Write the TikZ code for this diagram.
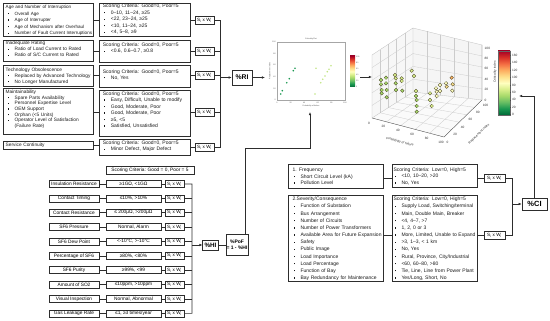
\documentclass[tikz,border=0pt]{standalone}
\usepackage{fontspec}
\setmainfont{Liberation Sans}
\usetikzlibrary{calc,arrows.meta}
\definecolor{cm0}{RGB}{0,104,55}
\definecolor{cm1}{RGB}{26,152,80}
\definecolor{cm2}{RGB}{102,189,99}
\definecolor{cm3}{RGB}{166,217,106}
\definecolor{cm4}{RGB}{217,239,139}
\definecolor{cm5}{RGB}{255,255,191}
\definecolor{cm6}{RGB}{254,224,139}
\definecolor{cm7}{RGB}{253,174,97}
\definecolor{cm8}{RGB}{244,109,67}
\definecolor{cm9}{RGB}{215,48,39}
\definecolor{cm10}{RGB}{165,0,38}
\definecolor{ln}{RGB}{45,45,45}
\pgfdeclareverticalshading{rdyg}{100bp}{color(0bp)=(cm0); color(25bp)=(cm0); color(30bp)=(cm1); color(35bp)=(cm2); color(40bp)=(cm3); color(45bp)=(cm4); color(50bp)=(cm5); color(55bp)=(cm6); color(60bp)=(cm7); color(65bp)=(cm8); color(70bp)=(cm9); color(75bp)=(cm10); color(100bp)=(cm10)}
\newcommand\sq{\rule[0.9pt]{1.3pt}{1.3pt}}
\newcommand\bla{\hspace*{2pt}\makebox[7pt][l]{\sq}}
\newcommand\blb{\hspace*{1pt}\makebox[7pt][l]{\sq}}
\newcommand\SW{S\textsubscript{i} x W\textsubscript{i}}
\tikzset{
  bx/.style={draw=ln, line width=0.55pt, inner sep=0pt},
  tx/.style={inner sep=0pt, align=left, anchor=north west, text width=110pt, text=black!90},
  cn/.style={draw=ln, line width=0.55pt},
  ar/.style={cn, -{Latex[length=3.2pt,width=2.6pt]}},
  swb/.style={bx, minimum width=19pt, minimum height=8pt, font=\fontsize{4.6pt}{5pt}\selectfont},
  tiny2/.style={inner sep=0pt, font=\fontsize{1.9pt}{2.2pt}\selectfont, text=black!70},
  tk/.style={inner sep=0pt, font=\fontsize{3.2pt}{3.6pt}\selectfont, text=black!80},
  gl/.style={draw=gray!40, line width=0.3pt},
  pt/.style={draw=black!55!olive, line width=0.35pt, fill=#1},
}
\begin{document}
\begin{tikzpicture}[x=1pt,y=-1pt]
\useasboundingbox (0,0) rectangle (550,321);

% ---------------- top-left group ----------------
\node[bx, anchor=north west, minimum width=90pt, minimum height=33pt] (L1) at (3,3) {};
\node[tx, font=\fontsize{4.6pt}{6.6pt}\selectfont] (L1t) at (5.5,4.9) {Age and Number of Interruption\\\bla Overall Age\\\bla Age of Interrupter\\\bla Age of Mechanism after Overhaul\\\bla Number of Fault Current Interruptions};
\node[bx, anchor=north west, minimum width=90pt, minimum height=21pt] (L2) at (3,40) {};
\node[tx, font=\fontsize{4.8pt}{6pt}\selectfont] (L2t) at (5.5,41.2) {Inadequate Rating\\\bla Ratio of Load Current to Rated\\\bla Ratio of S/C Current to Rated};
\node[bx, anchor=north west, minimum width=90pt, minimum height=21pt] (L3) at (3,65) {};
\node[tx, font=\fontsize{4.8pt}{6pt}\selectfont] (L3t) at (5.5,67.4) {Technology Obsolescence\\\bla Replaced by Advanced Technology\\\bla No Longer Manufactured};
\node[bx, anchor=north west, minimum width=90pt, minimum height=46pt] (L4) at (3,88) {};
\node[tx, font=\fontsize{4.8pt}{5.6pt}\selectfont] (L4t) at (5.5,90.1) {Maintainability\\\bla Spare Parts Availability\\\bla Personnel Expertise Level\\\bla OEM Support\\\bla Orphan (<5 Units)\\\bla Operator Level of Satisfaction\\\hspace*{9pt}(Failure Rate)};
\node[bx, anchor=north west, minimum width=90pt, minimum height=8pt] (L5) at (3,141) {};
\node[tx, anchor=west, font=\fontsize{4.8pt}{5.6pt}\selectfont] (L5t) at (5.5,145) {Service Continuity};

\node[bx, anchor=north west, minimum width=91pt, minimum height=33pt] (S1) at (99,3) {};
\node[tx, font=\fontsize{5pt}{6.5pt}\selectfont] (S1t) at (102.7,4) {Scoring Criteria: Good=0, Poor=5\\\blb 0–10, 11–24, ≥25\\\blb <22, 23–24, ≥25\\\blb <10, 11–24, ≥25\\\blb <4, 5–8, ≥9};
\node[bx, anchor=north west, minimum width=91pt, minimum height=22pt] (S2) at (99,40) {};
\node[tx, font=\fontsize{5pt}{6pt}\selectfont] (S2t) at (102.7,43) {Scoring Criteria: Good=0, Poor=5\\\blb <0.6, 0.6–0.7, ≥0.8};
\node[bx, anchor=north west, minimum width=91pt, minimum height=22pt] (S3) at (99,65) {};
\node[tx, font=\fontsize{5pt}{6pt}\selectfont] (S3t) at (102.7,69.5) {Scoring Criteria: Good=0, Poor=5\\\blb No, Yes};
\node[bx, anchor=north west, minimum width=91pt, minimum height=46pt] (S4) at (99,90) {};
\node[tx, font=\fontsize{5pt}{6.5pt}\selectfont] (S4t) at (102.7,91.3) {Scoring Criteria: Good=0, Poor=5\\\blb Easy, Difficult, Unable to modify\\\blb Good, Moderate, Poor\\\blb Good, Moderate, Poor\\\blb ≥5, <5\\\blb Satisfied, Unsatisfied};
\node[bx, anchor=north west, minimum width=91pt, minimum height=16pt] (S5) at (99,139) {};
\node[tx, font=\fontsize{5pt}{6pt}\selectfont] (S5t) at (102.7,141) {Scoring Criteria: Good=0, Poor=5\\\blb Minor Defect, Major Defect};

\node[swb] (W1) at (204.5,20.5) {\SW};
\node[swb] (W2) at (204.5,51) {\SW};
\node[swb] (W3) at (204.5,75.5) {\SW};
\node[swb] (W4) at (204.5,112) {\SW};
\node[swb] (W5) at (204.5,147) {\SW};
\node[bx, minimum width=20pt, minimum height=15pt, font=\bfseries\fontsize{6.8pt}{7pt}\selectfont] (RI) at (242,77.5) {\%RI};

\coordinate (rcT) at (220,20.5);
\coordinate (rcB) at (220,147);
\foreach \i in {1,2,3,4} {
  \draw[cn] (L\i.east |- W\i) -- (S\i.west |- W\i);
  \draw[cn] (S\i.east |- W\i) -- (W\i.west);
}
\draw[cn] (L5.east) -- (L5.east -| S5.west);
\draw[cn] (S5.east |- W5) -- (W5.west);
\draw[cn] (W1.east) -- (rcT) -- (rcB) -- (W5.east);
\foreach \i in {2,3,4} \draw[cn] (W\i.east) -- (W\i.east -| rcT);
\draw[ar] (RI.west -| rcT) -- (RI.west);

% ---------------- bottom-left group ----------------
\node[bx, minimum width=88pt, minimum height=7.5pt, font=\fontsize{4.8pt}{5pt}\selectfont] (HC) at (150,170.3) {Scoring Criteria: Good = 0, Poor = 5};
\foreach \i/\p/\v in {0/{Insulation Resistance}/{≥1GΩ, <1GΩ},
                      1/{Contact Timing}/{≤10\%, >10\%},
                      2/{Contact Resistance}/{≤ 200μΩ, >200μΩ},
                      3/{SF6 Pressure}/{Normal, Alarm},
                      4/{SF6 Dew Point}/{<-10°C, >-10°C},
                      5/{Percentage of SF6}/{≥80\%, <80\%},
                      6/{SF6 Purity}/{≥99\%, <99},
                      7/{Amount of SO2}/{≤10ppm, >10ppm},
                      8/{Visual Inspection}/{Normal, Abnormal},
                      9/{Gas Leakage Rate}/{≤1, ≥3 times/year}} {
  \node[bx, minimum width=50pt, minimum height=7pt, font=\fontsize{4.8pt}{5pt}\selectfont] (P\i) at (74,{184+14.37*\i}) {\p};
  \node[bx, minimum width=55pt, minimum height=7pt, font=\fontsize{4.8pt}{5pt}\selectfont] (V\i) at (133.5,{184+14.37*\i}) {\v};
  \node[swb, minimum height=7pt] (X\i) at (174.5,{184+14.37*\i}) {\SW};
  \draw[cn] (P\i.east) -- (V\i.west);
  \draw[cn] (V\i.east) -- (X\i.west);
}
\coordinate (hcT) at (192,184);
\coordinate (hcB) at (192,313.33);
\draw[cn] (X0.east) -- (hcT) -- (hcB) -- (X9.east);
\foreach \i in {1,...,8} \draw[cn] (X\i.east) -- (X\i.east -| hcT);
\node[bx, minimum width=15.5pt, minimum height=10pt, font=\bfseries\fontsize{6.3pt}{7pt}\selectfont] (HI) at (210.5,245) {\%HI};
\node[bx, minimum width=22pt, minimum height=21pt, align=center, font=\bfseries\fontsize{5pt}{6pt}\selectfont] (PoF) at (237,245) {\%PoF\\= 1 - \%HI};
\draw[ar] (HI.west -| hcT) -- (HI.west);
\draw[cn] (HI.east) -- (PoF.west);

% ---------------- 2D plot ----------------
\coordinate (f2l) at (265,77.5);
\coordinate (f2r) at (360,77);
\coordinate (f2b) at (310,112);
\coordinate (bend) at (245,148);
\draw[gray!70, line width=0.25pt] (277,42) rectangle (345,100);
\node[tiny2] (t2) at (311,39.5) {Criticality Plot};
\foreach \v [count=\k from 0] in {0,20,40,60,80,100} {
  \node[tiny2] (xt\k) at ({277+\k*13.6},102.6) {\v};
  \node[tiny2, anchor=east] (yt\k) at (275.8,{100-\k*11.6}) {\v};
}
\node[tiny2] (x2l) at (311,106.5) {Probability of failure};
\node[tiny2, rotate=90] (y2l) at (270,71) {Replacement index};
\foreach \x/\y in {280.7/94, 282.3/90.7, 286.7/82.7, 289.3/78.7, 293.3/70.7, 295/68.3}
  \fill[cm1] (\x,\y) circle (0.9pt);
\foreach \x/\y in {315/94, 320.7/82.7, 322.7/79.3, 325/76, 327.3/71.7, 329/69.3, 331/65.7, 316/68.3}
  \fill[cm3!70!cm5] (\x,\y) circle (0.9pt);
\shade[shading=rdyg] (350,56) rectangle (355,87);
\foreach \v [count=\k from 0] in {0,20,40,60,80,100}
  \node[tiny2, anchor=west] (cs\k) at (356,{87-\k*6}) {\v};
\draw[ar] (RI.east) -- (f2l);
\draw[ar] (PoF.north -| bend) -- (bend) -| (f2b);

% ---------------- 3D plot ----------------
\coordinate (A) at (372,55);
\coordinate (B) at (372,118);
\coordinate (C) at (413,28);
\coordinate (D) at (413,92);
\coordinate (E) at (482,45);
\coordinate (F) at (482,100);
\coordinate (G) at (444,137);
\coordinate (f3l) at (372,77);
\draw[ar] (f2r) -- (f3l);
\fill[gray!6] (A) -- (C) -- (D) -- (B) -- cycle;
\fill[gray!8] (C) -- (E) -- (F) -- (D) -- cycle;
\fill[gray!4] (B) -- (D) -- (F) -- (G) -- cycle;
\foreach \t in {0.2,0.4,0.6,0.8} {
  \draw[gl] ($(B)!\t!(G)$) -- ($(D)!\t!(F)$);
  \draw[gl] ($(B)!\t!(D)$) -- ($(G)!\t!(F)$);
  \draw[gl] ($(B)!\t!(D)$) -- ($(A)!\t!(C)$);
  \draw[gl] ($(B)!\t!(A)$) -- ($(D)!\t!(C)$);
  \draw[gl] ($(D)!\t!(F)$) -- ($(C)!\t!(E)$);
  \draw[gl] ($(D)!\t!(C)$) -- ($(F)!\t!(E)$);
}
\draw[gray!50, line width=0.3pt] (B) -- (A) -- (C) -- (E) (C) -- (D) -- (B) (D) -- (F);
\draw[black!75, line width=0.35pt] (B) -- (G) -- (F) -- (E);
\foreach \v [count=\k from 0] in {0,20,40,60,80,100} {
  \node[tk] (xk\k) at ($(B)!{\k/5}!(G)+(-3,5)$) {\v};
  \node[tk] (yk\k) at ($(G)!{\k/5}!(F)+(3.5,5)$) {\v};
  \node[tk, anchor=west] (zk\k) at (484.5,{100-\k*10.4}) {\v};
}
\node[tk, rotate=-15] (x3l) at (400,142) {Probability of failure};
\node[tk, rotate=44] (y3l) at (479,134) {Replacement index};
\node[tk, rotate=90] (z3l) at (495,72) {Criticality index};
\foreach \x/\y in {381/80, 381/84.3, 381.7/90, 381.7/93.3, 386/77.7, 386/83.3, 386.7/90, 386.7/97.3, 395.7/83.3, 396/90, 402.3/90.7, 416/96, 416.7/100, 416.7/106, 416.7/111.7}
  \draw[pt=cm3] (\x,\y) circle (1.8pt);
\foreach \x/\y in {395/75, 395.7/78.3, 401.7/78.3, 401.7/81, 411.7/70.7, 414/76, 416/91, 430/93.3, 430/100, 431.7/106}
  \draw[pt=cm4] (\x,\y) circle (1.8pt);
\foreach \x/\y in {436/88.3, 436.7/91.7, 436.7/96, 440/85, 440/91, 446/83.3, 452.3/90.7}
  \draw[pt=cm5] (\x,\y) circle (1.8pt);
\draw[pt=cm6] (446.7,86.7) circle (1.8pt);
\draw[pt=cm6] (452.7,84.3) circle (1.8pt);
\draw[pt=cm7] (451.7,77.7) circle (1.8pt);
% colour bar
\shade[shading=rdyg] (498,51) rectangle (510,115);
\draw[black!60, line width=0.3pt] (498,51) rectangle (510,115);
\foreach \v in {0,20,40,60,80,100,120,140,160} {
  \draw[black!70, line width=0.3pt] (510,{114.5-\v*0.36875}) -- (511.2,{114.5-\v*0.36875});
  \node[tk, anchor=west] (cb\v) at (511.8,{114.5-\v*0.36875}) {\v};
}
\coordinate (cbin) at (519,96);

% ---------------- bottom-right group ----------------
\node[bx, anchor=north west, minimum width=95pt, minimum height=24pt] (F1) at (288,164) {};
\node[tx, font=\fontsize{5pt}{6.5pt}\selectfont] (F1t) at (292.3,168) {1. Frequency\\\blb Short Circuit Level (kA)\\\blb Pollution Level};
\node[bx, anchor=north west, minimum width=85pt, minimum height=23pt] (FS1) at (392,164) {};
\node[tx, font=\fontsize{5pt}{6.7pt}\selectfont] (FS1t) at (393.3,167.3) {Scoring Criteria: Low=0, High=5\\\blb <10, 10–20, >20\\\blb No, Yes};
\node[bx, anchor=north west, minimum width=95pt, minimum height=85.5pt] (F2) at (288,195) {};
\node[tx, font=\fontsize{5pt}{7.15pt}\selectfont] (F2t) at (292.3,197) {2.Severity/Consequence\\\blb Function of Substation\\\blb Bus Arrangement\\\blb Number of Circuits\\\blb Number of Power Transformers\\\blb Available Area for Future Expansion\\\blb Safety\\\blb Public Image\\\blb Load Importance\\\blb Load Percentage\\\blb Function of Bay\\\blb Bay Redundancy for Maintenance};
\node[bx, anchor=north west, minimum width=85pt, minimum height=86pt] (FS2) at (392,195) {};
\node[tx, font=\fontsize{5pt}{7.15pt}\selectfont] (FS2t) at (393.3,197) {Scoring Criteria: Low=0, High=5\\\blb Supply Load, Switching/terminal\\\blb Main, Double Main, Breaker\\\blb <4, 4–7, >7\\\blb 1, 2, 0 or 3\\\blb More, Limited, Unable to Expand\\\blb >3, 1–3, < 1 km\\\blb No, Yes\\\blb Rural, Province, City/Industrial\\\blb <60, 60–80, >80\\\blb Tie, Line, Line from Power Plant\\\blb Yes/Long, Short, No};
\node[swb, minimum width=21pt] (R1) at (494.5,178) {\SW};
\node[swb, minimum width=21pt, minimum height=7.5pt] (R2) at (494.5,235.5) {\SW};
\node[bx, minimum width=25pt, minimum height=12pt, font=\bfseries\fontsize{7.5pt}{8pt}\selectfont] (CI) at (534.5,204) {\%CI};
\draw[cn] (F1.east |- R1) -- (FS1.west |- R1);
\draw[cn] (FS1.east |- R1) -- (R1.west);
\draw[cn] (F2.east |- R2) -- (FS2.west |- R2);
\draw[cn] (FS2.east |- R2) -- (R2.west);
\coordinate (bc1) at (512,178);
\coordinate (bc2) at (512,235.5);
\draw[cn] (R1.east) -- (bc1) -- (bc2) -- (R2.east);
\draw[ar] (CI.west -| bc1) -- (CI.west);
\draw[ar] (CI.north) |- (cbin);
\end{tikzpicture}
\end{document}
